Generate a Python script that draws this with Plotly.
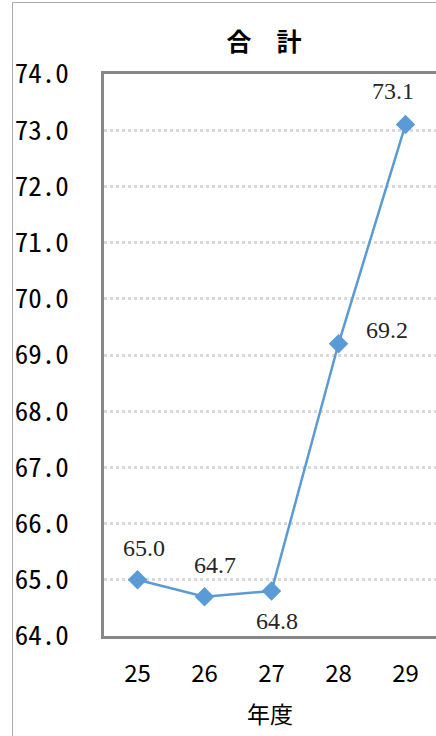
import plotly.graph_objects as go

# ---- data ----
years = ["25", "26", "27", "28", "29"]
values = [65.0, 64.7, 64.8, 69.2, 73.1]
value_labels = ["65.0", "64.7", "64.8", "69.2", "73.1"]
y_ticks = [64.0, 65.0, 66.0, 67.0, 68.0, 69.0, 70.0, 71.0, 72.0, 73.0, 74.0]
title_text = "合　計"
x_title = "年度"

# label offsets in px (style only)
label_offsets = [(6, 32), (10, 32), (5, -30), (48, 14), (-13, 34)]

W, H = 436, 736
L, R, T, B = 104, 0, 74, 100
plot_w = W - L - R
plot_h = H - T - B

BLUE = "#5B9BD5"
TXT = "#000000"
fig = go.Figure()
fig.add_trace(go.Scatter(
    x=years, y=values, mode="lines+markers",
    line=dict(color=BLUE, width=2.5),
    marker=dict(symbol="diamond", size=15, color=BLUE),
    hoverinfo="skip", showlegend=False,
))

for i, (yv, t, (dx, dy)) in enumerate(zip(values, value_labels, label_offsets)):
    fig.add_annotation(x=i, y=yv, xref="x", yref="y", text=t, showarrow=False,
                       xshift=dx, yshift=dy,
                       font=dict(family="Liberation Serif, serif", size=24, color="#262626"))

# outer chart border (cropped on the right and bottom)
fig.add_shape(type="rect", xref="paper", yref="paper",
              x0=(12.5 - L) / plot_w, x1=1.2,
              y0=-0.3, y1=(H - B - 2.5) / plot_h,
              line=dict(color="#ABABAB", width=1), layer="below")

fig.update_layout(
    width=W, height=H,
    margin=dict(l=L, r=R, t=T, b=B),
    paper_bgcolor="white", plot_bgcolor="white",
    title=dict(text=title_text, x=264 / W, xanchor="center", xref="container",
               y=1 - 42 / H, yanchor="middle",
               font=dict(family="Noto Sans CJK JP", size=25, color=TXT, weight="bold")),
    font=dict(family="Noto Sans CJK JP", color=TXT),
)

fig.update_xaxes(
    type="category", range=[-0.5, -0.5 + plot_w / 67.0],
    showline=True, linecolor="#878787", linewidth=2.5, mirror=True,
    showgrid=False, ticks="", ticklabelstandoff=14,
    tickfont=dict(family="Noto Sans CJK JP", size=24, color=TXT),
    title=dict(text=x_title, standoff=20,
               font=dict(family="Noto Sans CJK JP", size=23, color=TXT)),
    fixedrange=True,
)
fig.update_yaxes(
    range=[64, 74], tickvals=y_ticks, tickformat=".1f",
    showline=True, linecolor="#878787", linewidth=2.5,
    showgrid=True, gridcolor="#D9D9D9", gridwidth=3, griddash="dot",
    zeroline=False, ticks="", ticklabelstandoff=27,
    tickfont=dict(family="Noto Sans Mono CJK JP, Noto Sans CJK JP", size=27, color=TXT),
    fixedrange=True,
)

fig.write_html("out.html", config={"displayModeBar": False},
               post_script="document.body.style.margin='0';")
